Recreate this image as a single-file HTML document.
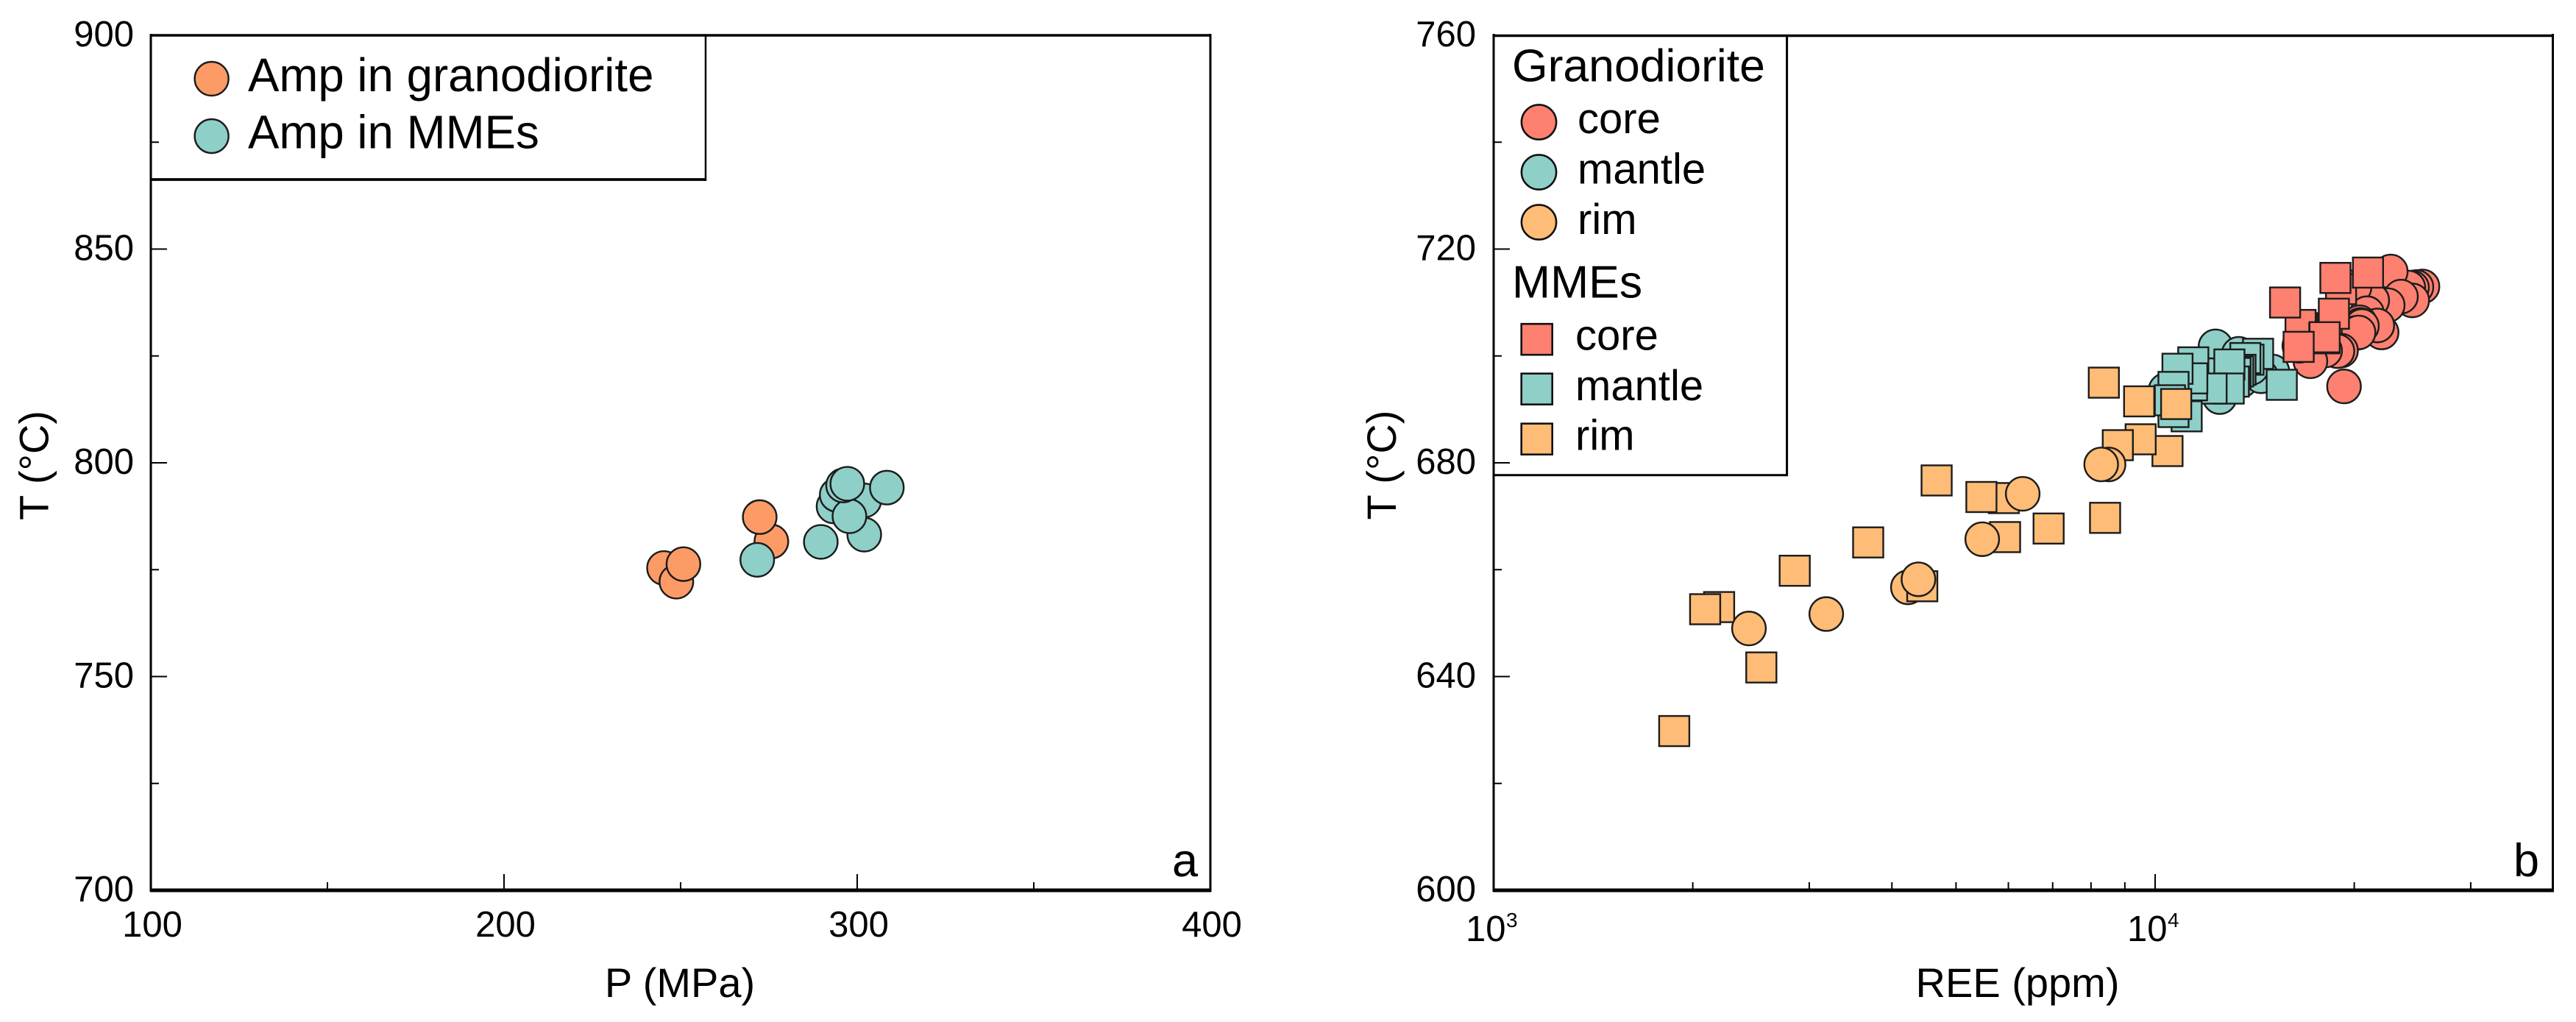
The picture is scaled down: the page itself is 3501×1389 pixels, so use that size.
<!DOCTYPE html>
<html lang="en">
<head>
<meta charset="utf-8">
<title>Amphibole thermobarometry scatter plots</title>
<style>
html,body{margin:0;padding:0;background:#fff;width:3501px;height:1389px;overflow:hidden}
svg{display:block}
text{font-family:"Liberation Sans",Arial,sans-serif;fill:#000}
</style>
</head>
<body>
<svg id="chart" xmlns="http://www.w3.org/2000/svg" width="3501" height="1389" viewBox="0 0 3501 1389">
  <rect x="0" y="0" width="3501" height="1389" fill="#fff"/>
  <g id="panel-a">
    <g id="a-ticks"></g>
    <g id="a-marks"></g>
    <g stroke="#000" fill="none">
      <line x1="205" y1="46" x2="205" y2="1212" stroke-width="3"/>
      <line x1="1645" y1="46" x2="1645" y2="1212" stroke-width="3"/>
      <line x1="204" y1="48" x2="1646" y2="48" stroke-width="3.5"/>
      <line x1="204" y1="1210" x2="1646" y2="1210" stroke-width="5"/>
    </g>
    <text x="924" y="1355" font-size="56" text-anchor="middle">P (MPa)</text>
    <text x="65.5" y="632.5" font-size="56" text-anchor="middle" transform="rotate(-90 65.5 632.5)">T (°C)</text>
    <text x="1628" y="1191" font-size="63" text-anchor="end">a</text>
    <g>
      <g fill="none" stroke="#000">
        <line x1="959" y1="48" x2="959" y2="246" stroke-width="2.5"/>
        <line x1="205" y1="244" x2="960" y2="244" stroke-width="3.7"/>
      </g>
      <circle cx="287.6" cy="107" r="23" fill="#FC9B66" stroke="#1c1c1c" stroke-width="2.4"/>
      <text x="337" y="124" font-size="63.6">Amp in granodiorite</text>
      <circle cx="287.6" cy="185" r="23" fill="#8ECFC8" stroke="#1c1c1c" stroke-width="2.4"/>
      <text x="337" y="201.7" font-size="63.6">Amp in MMEs</text>
    </g>
  </g>
  <g id="panel-b">
    <g id="b-ticks"></g>
    <g id="b-marks"></g>
    <g stroke="#000" fill="none">
      <line x1="2030" y1="46" x2="2030" y2="1212" stroke-width="3"/>
      <line x1="3469.5" y1="46" x2="3469.5" y2="1212" stroke-width="3"/>
      <line x1="2029" y1="48.5" x2="3471" y2="48.5" stroke-width="3.5"/>
      <line x1="2029" y1="1210" x2="3471" y2="1210" stroke-width="5"/>
    </g>
    <text x="2742" y="1355" font-size="56" text-anchor="middle">REE (ppm)</text>
    <text x="1897" y="632" font-size="56" text-anchor="middle" transform="rotate(-90 1897 632)">T (°C)</text>
    <text x="3451" y="1191" font-size="63" text-anchor="end">b</text>
    <g>
      <g fill="none" stroke="#000">
        <line x1="2428.6" y1="48" x2="2428.6" y2="647" stroke-width="3"/>
        <line x1="2030" y1="645.7" x2="2430" y2="645.7" stroke-width="3"/>
      </g>
      <text x="2055" y="110.6" font-size="62.5">Granodiorite</text>
      <circle cx="2091.5" cy="166" r="23.6" fill="#FD8070" stroke="#111" stroke-width="2.6"/>
      <text x="2144" y="181" font-size="58">core</text>
      <circle cx="2091.5" cy="234" r="23.6" fill="#8ECFC8" stroke="#111" stroke-width="2.6"/>
      <text x="2144" y="249.3" font-size="58">mantle</text>
      <circle cx="2091.5" cy="302" r="23.6" fill="#FEBC76" stroke="#111" stroke-width="2.6"/>
      <text x="2144" y="317.9" font-size="58">rim</text>
      <text x="2055" y="404.6" font-size="62.5">MMEs</text>
      <rect x="2067.7" y="440.2" width="42" height="42" fill="#FD8070" stroke="#111" stroke-width="2.6"/>
      <text x="2141" y="475.7" font-size="58">core</text>
      <rect x="2067.7" y="507.7" width="42" height="42" fill="#8ECFC8" stroke="#111" stroke-width="2.6"/>
      <text x="2141" y="544.2" font-size="58">mantle</text>
      <rect x="2067.7" y="575.7" width="42" height="42" fill="#FEBC76" stroke="#111" stroke-width="2.6"/>
      <text x="2141" y="611.4" font-size="58">rim</text>
    </g>
  </g>
</svg>
<script>
// Panel a: axis ticks
const aXTicks = [100, 200, 300, 400];
const aXMinorTicks = [150, 250, 350];
const aYTicks = [700, 750, 800, 850, 900];
const aYMinorTicks = [725, 775, 825, 875];

// Panel a: amphibole in granodiorite
const aGranoP = [245.3, 248.8, 250.8, 275.7, 272.4];
const aGranoT = [775.4, 772.2, 776.3, 781.6, 787.3];

// Panel a: amphibole in MMEs
const aMmeP = [271.7, 289.7, 302, 293.3, 302, 308.4, 294.2, 297.8, 296, 297.2];
const aMmeT = [777.3, 781.5, 783.2, 789.8, 791.2, 794.2, 792.5, 787.5, 794.7, 795.1];

// Panel b: axis ticks
const bXDecades = [1000, 10000];
const bXDecadeLabels = ['3', '4'];
const bXMinorTicks = [2000, 3000, 4000, 5000, 6000, 7000, 8000, 9000, 20000, 30000];
const bYTicks = [600, 640, 680, 720, 760];
const bYMinorTicks = [620, 660, 700, 740];

// Panel b: granodiorite core
const grCoreREE = [25360, 24830, 24450, 24140, 22710, 24470, 23530, 22470, 21290, 20020, 20910, 22000, 21670, 20370, 20430, 20540, 20110, 20300, 19100, 18860, 18070, 17170, 16520, 19300];
const grCoreT = [713, 712.9, 712.8, 712.8, 715.8, 710.4, 711.1, 709.5, 710.4, 712.9, 708, 704.4, 705.7, 706.3, 705.8, 705.6, 704.3, 704.4, 701, 700.9, 701, 699, 701.9, 694.3];

// Panel b: granodiorite mantle
const grMantleREE = [12340, 13380, 10370, 12520, 13490, 15040, 14460, 12150, 13990];
const grMantleT = [701.8, 700.4, 693.6, 692.3, 695.4, 697.1, 696.2, 696.4, 697.8];

// Panel b: MMEs mantle
const mmeMantleREE = [14310, 11420, 13840, 13690, 13460, 13350, 13230, 13150, 12950, 12920, 12170, 11370, 11380, 10810, 11160, 10660, 10660, 10530, 15540];
const mmeMantleT = [700.4, 698.8, 699.3, 699.6, 697.4, 697.1, 696.8, 695.2, 698.4, 693.9, 693.9, 694.5, 695.8, 697.6, 688.7, 689.5, 694.2, 691.7, 694.6];

// Panel b: MMEs core
const mmeCoreREE = [19100, 18730, 20980, 16690, 16590, 15720, 18630, 18020, 18040, 16480];
const mmeCoreT = [712.5, 714.6, 715.6, 705.2, 705.8, 710, 707.9, 703.3, 703.5, 701.7];

// Panel b: granodiorite rim, first sample (sits beneath the MMEs rim squares)
const grRimEarlyREE = [4229];
const grRimEarlyT = [656.7];

// Panel b: MMEs rim
const mmeRimREE = [1875, 2539, 2192, 2088, 2852, 3683, 4674, 5905, 5462, 5931, 6902, 4446, 8365, 8401, 10440, 9508, 8782, 9459, 10760];
const mmeRimT = [629.8, 641.7, 653, 652.6, 659.8, 665.1, 676.7, 673.4, 673.6, 666.1, 667.7, 656.9, 695, 669.7, 682.2, 684.4, 683.3, 691.5, 691];

// Panel b: granodiorite rim, remaining samples
const grRimREE = [2432, 3183, 4387, 5478, 6307, 8503, 8288];
const grRimT = [649, 651.7, 658.2, 665.7, 674.2, 679.7, 679.7];

const SVG_NS = 'http://www.w3.org/2000/svg';

// Axis functions
function axA_x(v) { return 205 + (v - 100) / (400 - 100) * (1645 - 205); }
function axA_y(v) { return 1210 - (v - 700) / (900 - 700) * (1210 - 48); }
function axB_x(v) { return 2030 + (Math.log10(v) - 3) * 899; }
function axB_y(v) { return 1210 - (v - 600) / (760 - 600) * (1210 - 48); }

function shape(tag, attrs, parent) {
  const el = document.createElementNS(SVG_NS, tag);
  for (const k in attrs) el.setAttribute(k, attrs[k]);
  parent.appendChild(el);
  return el;
}

function drawCircles(xs, ys, fx, fy, fill, name, parent) {
  xs.forEach(function (v, i) {
    const el = shape('circle', { cx: fx(v), cy: fy(ys[i]), r: 22.9, fill: fill, stroke: '#1c1c1c', 'stroke-width': 2.4 }, parent);
    
    
  });
}

function drawSquares(xs, ys, fx, fy, fill, name, parent) {
  xs.forEach(function (v, i) {
    const el = shape('rect', { x: fx(v) - 20.5, y: fy(ys[i]) - 20.5, width: 41, height: 41, fill: fill, stroke: '#1c1c1c', 'stroke-width': 2.4 }, parent);
    
    
  });
}

function drawXTick(px, baseY, len, name, parent) {
  const el = shape('line', { x1: px, x2: px, y1: baseY, y2: baseY - len, stroke: '#000', 'stroke-width': 2 }, parent);
  
  
}

function drawYTick(py, baseX, len, name, parent) {
  const el = shape('line', { x1: baseX, x2: baseX + len, y1: py, y2: py, stroke: '#000', 'stroke-width': 2 }, parent);
  
  
}

function drawLabel(x, y, str, anchor, size, name, parent) {
  const el = shape('text', { x: x, y: y, 'text-anchor': anchor, 'font-size': size }, parent);
  el.textContent = str;
  
  
}

const aTicks = document.getElementById('a-ticks');
const bTicks = document.getElementById('b-ticks');
const aMarks = document.getElementById('a-marks');
const bMarks = document.getElementById('b-marks');

// Panel a axes
aXTicks.forEach(function (v) {
  if (v !== 100 && v !== 400) drawXTick(axA_x(v), 1210, 22, 'x-tick-a', aTicks);
  drawLabel(axA_x(v) + 2, 1273, String(v), 'middle', 49, 'x-tick-label-a', aTicks);
});
aXMinorTicks.forEach(function (v) { drawXTick(axA_x(v), 1210, 11, 'x-minor-tick-a', aTicks); });
aYTicks.forEach(function (v) {
  if (v !== 700 && v !== 900) drawYTick(axA_y(v), 205, 22, 'y-tick-a', aTicks);
  drawLabel(182, axA_y(v) + 15, String(v), 'end', 49, 'y-tick-label-a', aTicks);
});
aYMinorTicks.forEach(function (v) { drawYTick(axA_y(v), 205, 11, 'y-minor-tick-a', aTicks); });

// Panel b axes
bXDecades.forEach(function (v, i) {
  const px = axB_x(v);
  if (i > 0) drawXTick(px, 1210, 22, 'x-tick-b', bTicks);
  drawLabel(px - 38, 1279, '10', 'start', 49, 'x-tick-label-b', bTicks);
  drawLabel(px + 17, 1260, bXDecadeLabels[i], 'start', 28, 'x-tick-exponent-b', bTicks);
});
bXMinorTicks.forEach(function (v) { drawXTick(axB_x(v), 1210, 11, 'x-minor-tick-b', bTicks); });
bYTicks.forEach(function (v) {
  if (v !== 600 && v !== 760) drawYTick(axB_y(v), 2030, 22, 'y-tick-b', bTicks);
  drawLabel(2006, axB_y(v) + 15, String(v), 'end', 49, 'y-tick-label-b', bTicks);
});
bYMinorTicks.forEach(function (v) { drawYTick(axB_y(v), 2030, 11, 'y-minor-tick-b', bTicks); });

// Panel a points
drawCircles(aGranoP, aGranoT, axA_x, axA_y, '#FC9B66', 'point-amp-granodiorite', aMarks);
drawCircles(aMmeP, aMmeT, axA_x, axA_y, '#8ECFC8', 'point-amp-mmes', aMarks);

// Panel b points
drawCircles(grCoreREE, grCoreT, axB_x, axB_y, '#FD8070', 'point-granodiorite-core', bMarks);
drawCircles(grMantleREE, grMantleT, axB_x, axB_y, '#8ECFC8', 'point-granodiorite-mantle', bMarks);
drawSquares(mmeMantleREE, mmeMantleT, axB_x, axB_y, '#8ECFC8', 'point-mmes-mantle', bMarks);
drawSquares(mmeCoreREE, mmeCoreT, axB_x, axB_y, '#FD8070', 'point-mmes-core', bMarks);
drawCircles(grRimEarlyREE, grRimEarlyT, axB_x, axB_y, '#FEBC76', 'point-granodiorite-rim', bMarks);
drawSquares(mmeRimREE, mmeRimT, axB_x, axB_y, '#FEBC76', 'point-mmes-rim', bMarks);
drawCircles(grRimREE, grRimT, axB_x, axB_y, '#FEBC76', 'point-granodiorite-rim', bMarks);
</script>
</body>
</html>
